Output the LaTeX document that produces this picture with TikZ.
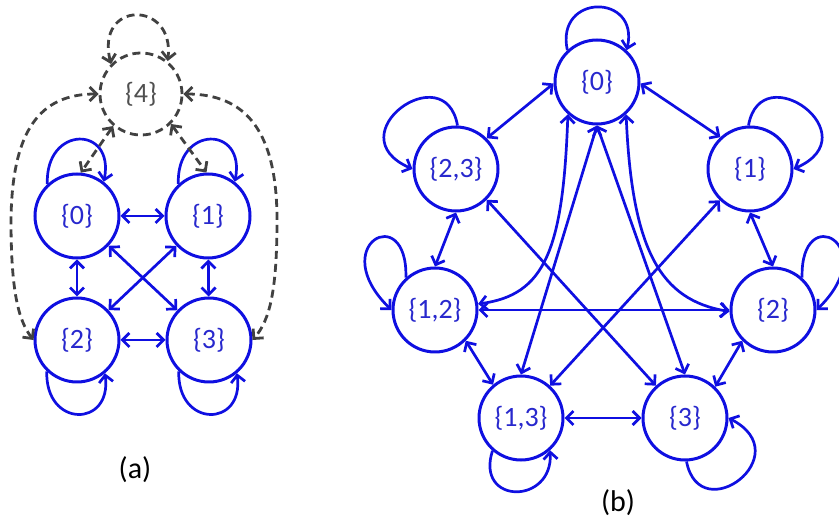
\documentclass[tikz,border=0pt]{standalone}
\usepackage{fontspec}
\setmainfont{Carlito}
\usetikzlibrary{arrows.meta}
\definecolor{lineblue}{RGB}{15,15,225}
\definecolor{textblue}{RGB}{40,40,205}
\definecolor{dgray}{RGB}{65,65,65}
\definecolor{tgray}{RGB}{80,80,80}
\begin{document}
\begin{tikzpicture}[x=1pt,y=-1pt,
  state/.style={circle,draw=lineblue,line width=3pt,minimum size=84pt,inner sep=0pt,text=textblue,font=\fontsize{28}{32}\selectfont},
  gstate/.style={circle,draw=dgray,dash pattern=on 8pt off 5pt,line width=2.8pt,minimum size=82pt,inner sep=0pt,text=tgray,font=\fontsize{28}{32}\selectfont},
  edge/.style={draw=lineblue,line width=2.7pt},
  bi/.style={edge,{Straight Barb[length=7pt,width=14pt]}-{Straight Barb[length=7pt,width=14pt]}},
  one/.style={edge,-{Straight Barb[length=7pt,width=14pt]}},
  gbi/.style={draw=dgray,line width=2.8pt,dash pattern=on 8pt off 5pt,{Straight Barb[length=7pt,width=14pt]}-{Straight Barb[length=7pt,width=14pt]}},
  lab/.style={font=\fontsize{30}{35}\selectfont,text=black}
]
\useasboundingbox (0,0) rectangle (839,518);
% ---------- panel (a)
\node[state] (a0) at (77,216) {\{0\}};
\node[state] (a1) at (208,216) {\{1\}};
\node[state] (a2) at (77,340) {\{2\}};
\node[state] (a3) at (209,340) {\{3\}};
\node[gstate] (a4) at (141,94) {\{4\}};
\node[lab] (la) at (135,470) {(a)};
\draw[bi] (a0) -- (a1);
\draw[bi] (a2) -- (a3);
\draw[bi] (a0) -- (a2);
\draw[bi] (a1) -- (a3);
\draw[bi] (a0) -- (a3);
\draw[bi] (a1) -- (a2);
\draw[one] (a0.133) .. controls (45,125) and (115,125) .. (a0.52);
\draw[one] (a1.133) .. controls (176,125) and (246,125) .. (a1.52);
\draw[one] (a2.226) .. controls (45,428) and (112,428) .. (a2.310);
\draw[one] (a3.226) .. controls (177,428) and (244,428) .. (a3.310);
\coordinate (wl) at (11,220);
\coordinate (wr) at (277,220);
\draw[gbi] (a4.135) .. controls (95,0) and (175,0) .. (a4.51);
\draw[gbi] (a4.229) -- (a0.85);
\draw[gbi] (a4.315) -- (a1.92);
\draw[gbi] (a4.west) .. controls (40,94) and (12,130) .. (wl) .. controls (11,290) and (18,320) .. (a2.west);
\draw[gbi] (a4.east) .. controls (245,94) and (277,130) .. (wr) .. controls (277,290) and (270,320) .. (a3.east);
% ---------- panel (b)
\node[state] (b0) at (597,82) {\{0\}};
\node[state] (b23) at (456,169) {\{2,3\}};
\node[state] (b1) at (750,169) {\{1\}};
\node[state] (b12) at (435,310) {\{1,2\}};
\node[state] (b2) at (773,310) {\{2\}};
\node[state] (b13) at (521,418) {\{1,3\}};
\node[state] (b3) at (685,418) {\{3\}};
\node[lab] (lb) at (618,503) {(b)};
\draw[bi] (b23.45) -- (b0.182);
\draw[bi] (b0.358) -- (b1.133);
\draw[bi] (b23.south) -- (b12.north);
\draw[bi] (b1.south) -- (b2.north);
\draw[bi] (b12.315) -- (b13.130);
\draw[bi] (b2.225) -- (b3.46);
\draw[bi] (b13) -- (b3);
\draw[bi] (b12) -- (b2);
\draw[bi] (b23.315) -- (b3.132);
\draw[bi] (b1.226) -- (b13.48);
\draw[bi] (b0.south) -- (b13.north);
\draw[bi] (b0.south) -- (b3.north);
\draw[bi] (b0.228) .. controls (563,250) and (545,295) .. (b12.8);
\draw[bi] (b0.312) .. controls (632,250) and (660,300) .. (b2.182);
\draw[one] (b0.133) .. controls (555,-7) and (640,-7) .. (b0.47);
\draw[one] (b23.88) .. controls (445,55) and (335,135) .. (b23.west);
\draw[one] (b1.92) .. controls (761,55) and (871,135) .. (b1.east);
\draw[one] (b12.132) .. controls (408,200) and (325,245) .. (b12.west);
\draw[one] (b2.48) .. controls (800,200) and (883,245) .. (b2.east);
\draw[one] (b13.229) .. controls (475,505) and (553,505) .. (b13.312);
\draw[one] (b3.272) .. controls (700,530) and (800,455) .. (b3.east);
\end{tikzpicture}
\end{document}
